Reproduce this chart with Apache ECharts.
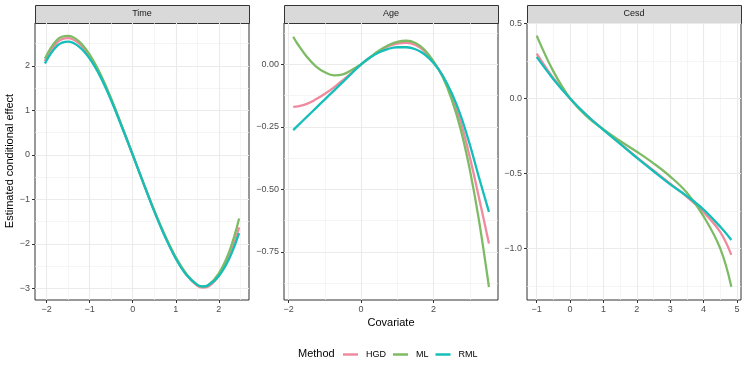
<!DOCTYPE html>
<html>
<head>
<meta charset="utf-8">
<script src="https://cdn.jsdelivr.net/npm/echarts@6/dist/echarts.min.js"></script>
<style>
  html, body { margin: 0; padding: 0; background: #fff; }
  #chart { width: 747px; height: 374px; }
</style>
</head>
<body>
<div id="chart"></div>
<script>
// facet titles and methods
const panels = ['Time', 'Age', 'Cesd'];
const methods = ['HGD', 'ML', 'RML'];
const colors = ['#EF8A9F', '#7EBB65', '#13BFB8'];

// Time panel
const timeX   = [-2.04, -1.75, -1.5, -1.25, -1, -0.75, -0.5, -0.25, 0, 0.25, 0.5, 0.75, 1, 1.25, 1.5, 1.625, 1.75, 2.0, 2.25, 2.47];
const timeHGD = [2.10, 2.53, 2.62, 2.50, 2.21, 1.78, 1.24, 0.63, 0, -0.64, -1.26, -1.83, -2.32, -2.70, -2.94, -2.98, -2.96, -2.72, -2.27, -1.63];
const timeML  = [2.16, 2.59, 2.67, 2.55, 2.25, 1.81, 1.26, 0.64, 0, -0.64, -1.25, -1.81, -2.30, -2.68, -2.92, -2.96, -2.93, -2.66, -2.15, -1.43];
const timeRML = [2.05, 2.45, 2.54, 2.43, 2.16, 1.75, 1.22, 0.62, 0, -0.64, -1.27, -1.84, -2.33, -2.70, -2.92, -2.955, -2.93, -2.72, -2.31, -1.76];

// Age panel
const ageX   = [-1.875, -1.75, -1.5, -1.25, -1, -0.75, -0.5, -0.25, 0, 0.25, 0.5, 0.75, 1, 1.25, 1.5, 1.75, 2, 2.25, 2.5, 2.75, 3, 3.25, 3.53];
const ageHGD = [-0.170, -0.168, -0.158, -0.140, -0.118, -0.092, -0.063, -0.032, 0, 0.028, 0.053, 0.072, 0.083, 0.086, 0.077, 0.052, 0.010, -0.045, -0.125, -0.230, -0.370, -0.530, -0.716];
const ageML  = [0.110, 0.080, 0.030, -0.008, -0.032, -0.044, -0.040, -0.022, 0, 0.028, 0.055, 0.076, 0.090, 0.094, 0.085, 0.058, 0.012, -0.050, -0.140, -0.260, -0.420, -0.620, -0.890];
const ageRML = [-0.263, -0.245, -0.210, -0.175, -0.140, -0.105, -0.070, -0.035, 0, 0.027, 0.048, 0.062, 0.068, 0.068, 0.060, 0.040, 0.005, -0.045, -0.115, -0.205, -0.320, -0.450, -0.590];

// Cesd panel
const cesdX   = [-1.0, -0.5, 0, 0.5, 1, 1.5, 2, 2.5, 3, 3.5, 4, 4.5, 4.83];
const cesdHGD = [0.298, 0.135, 0, -0.112, -0.208, -0.300, -0.392, -0.480, -0.568, -0.655, -0.758, -0.890, -1.042];
const cesdML  = [0.418, 0.180, 0, -0.120, -0.207, -0.283, -0.355, -0.432, -0.520, -0.628, -0.785, -1.000, -1.253];
const cesdRML = [0.276, 0.128, 0, -0.112, -0.210, -0.303, -0.395, -0.485, -0.572, -0.650, -0.740, -0.855, -0.942];

// tick labels
const timeXTicks = [-2, -1, 0, 1, 2];
const timeXMinor = [-1.5, -0.5, 0.5, 1.5, 2.5];
const timeYTicks = [-3, -2, -1, 0, 1, 2];
const timeYMinor = [-2.5, -1.5, -0.5, 0.5, 1.5, 2.5];
const ageXTicks = [-2, 0, 2];
const ageXMinor = [-1, 1, 3];
const ageYTicks = [-0.75, -0.5, -0.25, 0];
const ageYMinor = [-0.875, -0.625, -0.375, -0.125, 0.125];
const cesdXTicks = [-1, 0, 1, 2, 3, 4, 5];
const cesdXMinor = [-0.5, 0.5, 1.5, 2.5, 3.5, 4.5];
const cesdYTicks = [-1, -0.5, 0, 0.5];
const cesdYMinor = [-1.25, -0.75, -0.25, 0.25];

const panelData = [
    { x: timeX, ys: [timeHGD, timeML, timeRML], xt: timeXTicks, xm: timeXMinor, yt: timeYTicks, ym: timeYMinor,
      xr: [-2.27, 2.70], yr: [-3.26, 2.96], dec: 0 },
    { x: ageX, ys: [ageHGD, ageML, ageRML], xt: ageXTicks, xm: ageXMinor, yt: ageYTicks, ym: ageYMinor,
      xr: [-2.13, 3.78], yr: [-0.942, 0.165], dec: 2 },
    { x: cesdX, ys: [cesdHGD, cesdML, cesdRML], xt: cesdXTicks, xm: cesdXMinor, yt: cesdYTicks, ym: cesdYMinor,
      xr: [-1.29, 5.12], yr: [-1.342, 0.502], dec: 1 }
];

const gridLefts = [35, 284, 527];
const panelW = 214, panelTop = 23, panelH = 277;

const fmt = dec => v => Number(v).toFixed(dec).replace('-', '\u2212');

const chart = echarts.init(document.getElementById('chart'));

const grid = [], xAxis = [], yAxis = [], series = [], graphic = [];

panelData.forEach((p, i) => {
    grid.push({
        left: gridLefts[i], top: panelTop, width: panelW, height: panelH,
        show: true, borderColor: '#333333', borderWidth: 1, backgroundColor: '#fff'
    });
    // visible axes with major grid
    xAxis.push({
        type: 'value', gridIndex: i, min: p.xr[0], max: p.xr[1],
        axisLine: { show: false, onZero: false },
        axisTick: { show: true, customValues: p.xt, length: 3, lineStyle: { color: '#333333' } },
        axisLabel: { customValues: p.xt, formatter: fmt(0), color: '#4D4D4D', fontSize: 9, margin: 5 },
        splitLine: { show: true, lineStyle: { color: '#EBEBEB', width: 1.1 } }
    });
    yAxis.push({
        type: 'value', gridIndex: i, min: p.yr[0], max: p.yr[1],
        axisLine: { show: false, onZero: false },
        axisTick: { show: true, customValues: p.yt, length: 3, lineStyle: { color: '#333333' } },
        axisLabel: { customValues: p.yt, formatter: fmt(p.dec), color: '#4D4D4D', fontSize: 9, margin: 5 },
        splitLine: { show: true, lineStyle: { color: '#EBEBEB', width: 1.1 } }
    });
});

// minor grid axes
panelData.forEach((p, i) => {
    xAxis.push({
        type: 'value', gridIndex: i, min: p.xr[0], max: p.xr[1],
        axisLine: { show: false, onZero: false },
        axisTick: { show: false, customValues: p.xm },
        axisLabel: { show: false },
        splitLine: { show: true, lineStyle: { color: '#F0F0F0', width: 0.7 } }
    });
    yAxis.push({
        type: 'value', gridIndex: i, min: p.yr[0], max: p.yr[1],
        axisLine: { show: false, onZero: false },
        axisTick: { show: false, customValues: p.ym },
        axisLabel: { show: false },
        splitLine: { show: true, lineStyle: { color: '#F0F0F0', width: 0.7 } }
    });
});

panelData.forEach((p, i) => {
    methods.forEach((m, k) => {
        series.push({
            name: m, type: 'line', xAxisIndex: i, yAxisIndex: i,
            data: p.x.map((x, j) => [x, p.ys[k][j]]),
            smooth: 0.4, showSymbol: false, symbol: 'none',
            lineStyle: { color: colors[k], width: 2.3 },
            itemStyle: { color: colors[k] },
            z: 3 + k
        });
    });
    // strip
    graphic.push({
        type: 'rect', left: gridLefts[i], top: 5,
        shape: { width: panelW, height: 18 },
        style: { fill: '#D9D9D9', stroke: '#333333', lineWidth: 1 }
    });
    graphic.push({
        type: 'text', x: gridLefts[i] + panelW / 2, y: 14,
        style: { text: panels[i], fill: '#1A1A1A', font: '9px "Liberation Sans"', align: 'center', verticalAlign: 'middle' }
    });
});

graphic.push({
    type: 'text', x: 10, y: 161, rotation: Math.PI / 2,
    style: { text: 'Estimated conditional effect', fill: '#000', font: '11px "Liberation Sans"', align: 'center', verticalAlign: 'middle' }
});
graphic.push({
    type: 'text', x: 391, y: 323,
    style: { text: 'Covariate', fill: '#000', font: '11px "Liberation Sans"', align: 'center', verticalAlign: 'middle' }
});
graphic.push({
    type: 'text', x: 298, y: 354,
    style: { text: 'Method', fill: '#000', font: '11px "Liberation Sans"', align: 'left', verticalAlign: 'middle' }
});

chart.setOption({
    animation: false,
    textStyle: { fontFamily: 'Liberation Sans' },
    grid, xAxis, yAxis, series, graphic,
    legend: {
        data: methods, left: 343, top: 350, padding: 0,
        icon: 'rect', itemWidth: 15, itemHeight: 2.5, itemGap: 7,
        textStyle: { fontSize: 9, color: '#000', padding: [0, 0, 0, 3] }
    }
});
</script>
</body>
</html>
